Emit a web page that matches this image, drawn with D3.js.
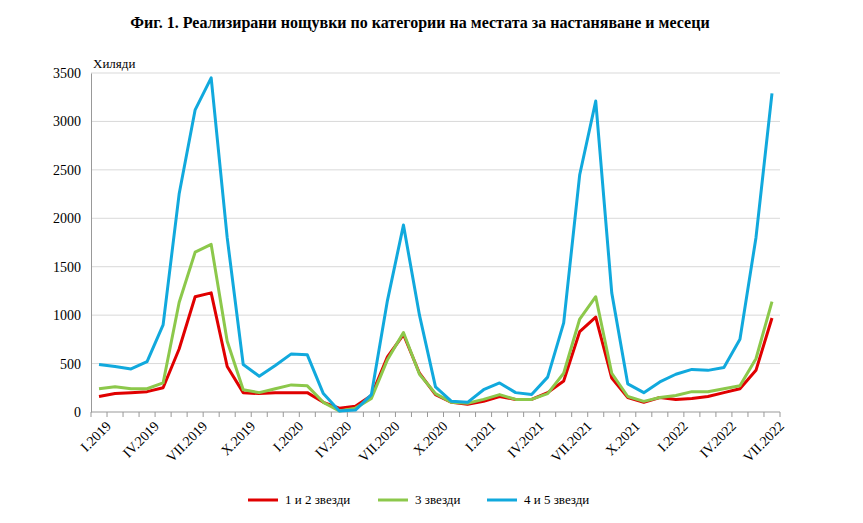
<!DOCTYPE html><html><head><meta charset="utf-8"><script src="https://cdn.jsdelivr.net/npm/d3@7"></script>
<style>body{margin:0;background:#fff}svg text{font-family:"Liberation Serif","Times New Roman",serif !important}</style></head><body><svg id="c" width="863" height="523"></svg>
<script>
const romans=["I","II","III","IV","V","VI","VII","VIII","IX","X","XI","XII"];
const months=[];for(let y=2019;y<=2022;y++)for(let m=0;m<12;m++){if(y==2022&&m>6)break;months.push(romans[m]+"."+y);}
const tickLabels=months.filter((d,i)=>i%3==0);
const s12=[160,190,200,210,250,650,1190,1230,470,200,190,200,200,200,100,40,60,170,570,800,400,180,100,80,110,160,130,130,200,320,830,980,350,150,100,150,130,140,160,200,240,430,970];
const s3=[240,260,240,240,300,1130,1650,1730,730,230,200,240,280,270,100,10,40,140,540,820,390,190,100,90,130,180,130,130,190,400,960,1190,400,160,110,150,170,210,210,240,270,550,1140];
const s45=[490,470,445,520,900,2250,3120,3450,1800,490,370,480,600,590,190,10,20,180,1150,1930,1000,260,110,100,230,300,200,180,360,920,2450,3210,1230,290,200,310,390,440,430,460,750,1800,3290];
const yTicks=[0,500,1000,1500,2000,2500,3000,3500];
const series=[{name:"1 и 2 звезди",v:s12,c:"#e00000"},{name:"3 звезди",v:s3,c:"#8cc84b"},{name:"4 и 5 звезди",v:s45,c:"#11a9dd"}];
const svg=d3.select("#c");
const x=d3.scaleBand().domain(months).range([91,780]);
const y=d3.scaleLinear().domain([0,3500]).range([412,73]);
svg.append("text").attr("x",420).attr("y",28).attr("text-anchor","middle").attr("font-weight","bold").attr("font-size",16).text("Фиг. 1. Реализирани нощувки по категории на местата за настаняване и месеци");
svg.append("text").attr("x",93).attr("y",68).attr("font-size",13).text("Хиляди");
svg.append("g").selectAll("line").data(yTicks.slice(1)).join("line").attr("x1",91).attr("x2",780).attr("y1",d=>y(d)).attr("y2",d=>y(d)).attr("stroke","#d9d9d9");
const ya=svg.append("g").attr("transform","translate(91,0)").call(d3.axisLeft(y).tickValues(yTicks).tickFormat(d3.format("d")).tickSize(0).tickPadding(10));
ya.select(".domain").attr("stroke","#999");ya.selectAll("text").attr("font-size",14).attr("fill","#000");
const xa=svg.append("g").attr("transform","translate(0,412)");
xa.append("line").attr("x1",91).attr("x2",780).attr("stroke","#999");
xa.selectAll(".t").data(months.concat(["end"])).join("line").attr("x1",(d,i)=>91+i*x.step()).attr("x2",(d,i)=>91+i*x.step()).attr("y1",0).attr("y2",5).attr("stroke","#999");
xa.selectAll("text").data(tickLabels).join("text").attr("font-size",14)
 .attr("transform",d=>`translate(${x(d)+x.bandwidth()/2+6},8) rotate(-45)`).attr("text-anchor","end").attr("dy","0.7em").text(d=>d);
const line=d3.line().x((d,i)=>x(months[i])+x.bandwidth()/2).y(d=>y(d));
series.forEach(s=>svg.append("path").attr("d",line(s.v)).attr("fill","none").attr("stroke",s.c).attr("stroke-width",3).attr("stroke-linejoin","round"));
const lg=svg.append("g");const lx=[248,378,487];
series.forEach((s,i)=>{lg.append("line").attr("x1",lx[i]).attr("x2",lx[i]+30).attr("y1",500).attr("y2",500).attr("stroke",s.c).attr("stroke-width",3);
lg.append("text").attr("x",lx[i]+37).attr("y",504).attr("font-size",13).text(s.name);});
</script></body></html>
